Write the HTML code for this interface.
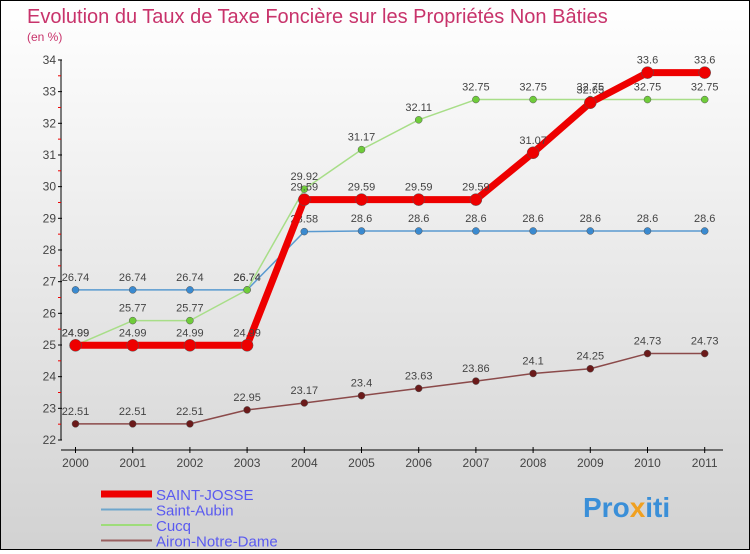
<!DOCTYPE html>
<html><head><meta charset="utf-8">
<style>
html,body{margin:0;padding:0;}
body{width:750px;height:550px;overflow:hidden;font-family:"Liberation Sans",sans-serif;}
#wrap{position:relative;width:748px;height:548px;border:1px solid #000;background:linear-gradient(#ffffff,#d2d2d2);}
</style></head>
<body>
<div id="wrap">
<svg id="chart" width="748" height="548">
<text x="26" y="22" font-size="20" fill="#c8336b">Evolution du Taux de Taxe Foncière sur les Propriétés Non Bâties</text>
<text x="26" y="40" font-size="12" fill="#c8336b">(en %)</text>
<g id="axes"></g>
<g id="series"></g>
<g id="legend"></g>
<text x="582" y="516" font-size="28" font-weight="bold" fill="#3a8fd8">Pro<tspan fill="#f0a020">x</tspan>iti</text>
</svg>
</div>
<script>
const years = [2000,2001,2002,2003,2004,2005,2006,2007,2008,2009,2010,2011];
const yTicks = [22,23,24,25,26,27,28,29,30,31,32,33,34];
const seriesNames = ["SAINT-JOSSE","Saint-Aubin","Cucq","Airon-Notre-Dame"];
const saintJosse = [24.99,24.99,24.99,24.99,29.59,29.59,29.59,29.59,31.07,32.65,33.6,33.6];
const saintAubin = [26.74,26.74,26.74,26.74,28.58,28.6,28.6,28.6,28.6,28.6,28.6,28.6];
const cucq = [24.99,25.77,25.77,26.74,29.92,31.17,32.11,32.75,32.75,32.75,32.75,32.75];
const airon = [22.51,22.51,22.51,22.95,23.17,23.4,23.63,23.86,24.1,24.25,24.73,24.73];

const NS="http://www.w3.org/2000/svg";
function X(i){return 74.5+i*57.2;}
function Y(v){return 439-(v-22)*31.67;}
function mk(tag,attrs,parent){const e=document.createElementNS(NS,tag);for(const k in attrs)e.setAttribute(k,attrs[k]);parent.appendChild(e);return e;}
const axes=document.getElementById('axes');
let a=mk('line',{x1:60,y1:Y(34),x2:60,y2:Y(22),stroke:'#000','stroke-width':1},axes);


a=mk('line',{x1:60,y1:449,x2:722,y2:449,stroke:'#000','stroke-width':1},axes);


yTicks.forEach((t,i)=>{
  const y=Y(t);
  mk('line',{x1:57,y1:y,x2:61,y2:y,stroke:'#000'},axes);
  if(i<yTicks.length-1) mk('line',{x1:57,y1:Y(t+0.5),x2:60,y2:Y(t+0.5),stroke:'#e00'},axes);
  const tx=mk('text',{x:55,y:y+4,'font-size':12,fill:'#444','text-anchor':'end'},axes);
  tx.textContent=t;
  
  
});
years.forEach((yr,i)=>{
  const x=X(i);
  mk('line',{x1:x,y1:446,x2:x,y2:452,stroke:'#000'},axes);
  const tx=mk('text',{x:x,y:466,'font-size':12,fill:'#444','text-anchor':'middle'},axes);
  tx.textContent=yr;
  
  
});
const g=document.getElementById('series');
function draw(vals,color,w,r,dot,name){
  const grp=mk('g',{},g);
  
  
  mk('polyline',{points:vals.map((v,i)=>X(i)+','+Y(v)).join(' '),fill:'none',stroke:color,'stroke-width':w,'stroke-linejoin':'round'},grp);
  vals.forEach((v,i)=>{
    const c=mk('circle',{cx:X(i),cy:Y(v),r:r,fill:dot,stroke:'#555','stroke-width':0.5},grp);
    
    
    const t=mk('text',{x:X(i),y:Y(v)-9,'font-size':11,fill:'#444','text-anchor':'middle'},grp);
    t.textContent=v;
  });
}
draw(airon,'#8b4a4a',1.5,3.5,'#6b1a1a','series-airon-notre-dame');
draw(saintAubin,'#5a9ad0',1.5,3.5,'#3a8ad0','series-saint-aubin');
draw(cucq,'#a8de88',1.5,3.5,'#6fcc3a','series-cucq');
draw(saintJosse,'#ee0000',7,6,'#ee0000','series-saint-josse');
const lg=document.getElementById('legend');
const lcol=['#ee0000','#6ea6cc','#9edc7a','#9a6060'];
const lw=[7,2,2,2];
seriesNames.forEach((n,i)=>{
  const y=493+i*15.5;
  const e=mk('g',{},lg);
  
  
  mk('line',{x1:100,y1:y,x2:151,y2:y,stroke:lcol[i],'stroke-width':lw[i]},e);
  const t=mk('text',{x:155,y:y+6,'font-size':15,fill:'#5a5af0'},e);
  t.textContent=n;
});
</script>
</body></html>
